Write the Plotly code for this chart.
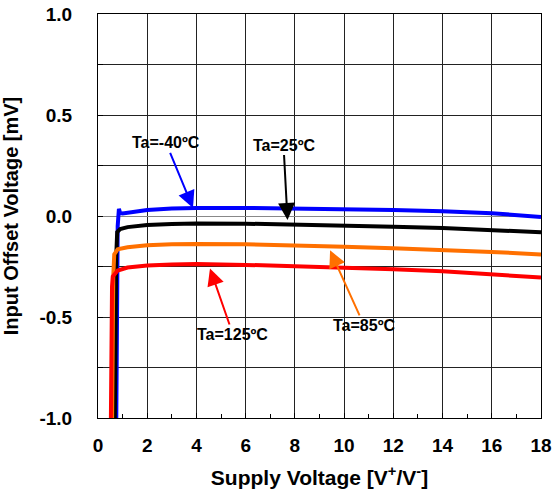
import plotly.graph_objects as go

# Supply voltage [V] and input offset voltage [mV] per ambient temperature
x_m40 = [0.74, 0.76, 0.80, 0.85, 0.90, 1.0, 1.5, 2, 3, 4, 6, 8, 10, 12, 14, 16, 18]
y_m40 = [-1.05, -0.5, -0.05, 0.035, 0.015, 0.012, 0.022, 0.03, 0.037, 0.04, 0.04, 0.038, 0.035, 0.03, 0.024, 0.014, -0.005]

x_25 = [0.68, 0.70, 0.74, 0.78, 0.9, 1.2, 2, 3, 4, 6, 8, 10, 12, 14, 16, 18]
y_25 = [-1.05, -0.6, -0.2, -0.08, -0.065, -0.055, -0.045, -0.04, -0.037, -0.038, -0.042, -0.047, -0.053, -0.06, -0.068, -0.08]

x_85 = [0.57, 0.59, 0.62, 0.66, 0.8, 1.2, 2, 3, 4, 6, 8, 10, 12, 14, 16, 18]
y_85 = [-1.05, -0.6, -0.3, -0.19, -0.165, -0.155, -0.145, -0.14, -0.138, -0.14, -0.145, -0.152, -0.16, -0.168, -0.178, -0.19]

x_125 = [0.52, 0.54, 0.57, 0.60, 0.8, 1.2, 2, 3, 4, 6, 8, 10, 12, 14, 16, 18]
y_125 = [-1.05, -0.6, -0.35, -0.3, -0.27, -0.255, -0.245, -0.24, -0.238, -0.242, -0.248, -0.255, -0.263, -0.273, -0.287, -0.305]

y_label_vals = [-1.0, -0.5, 0.0, 0.5, 1.0]
y_label_text = ["-1.0", "-0.5", "0.0", "0.5", "1.0"]
x_tick_vals = [0, 2, 4, 6, 8, 10, 12, 14, 16, 18]

series = [
    (x_m40, y_m40, "#0000FF", "Ta=-40ºC"),
    (x_25, y_25, "#000000", "Ta=25ºC"),
    (x_85, y_85, "#FF7000", "Ta=85ºC"),
    (x_125, y_125, "#FF0000", "Ta=125ºC"),
]

fig = go.Figure()
for xs, ys, color, name in series:
    fig.add_trace(go.Scatter(x=xs, y=ys, mode="lines", name=name,
                             line=dict(color=color, width=4), showlegend=False))

font_main = "Liberation Sans, Arial, sans-serif"

# Callout labels: (text, tip x, tip y, text offset px, color)
callouts = [
    ("Ta=-40ºC", 3.86, 0.04, -27, -65, "#0000FF"),
    ("Ta=25ºC", 7.7, -0.02, -4, -75, "#000000"),
    ("Ta=125ºC", 4.55, -0.26, 23, 66, "#FF0000"),
    ("Ta=85ºC", 9.43, -0.17, 34, 75, "#FF7000"),
]
for text, tx, ty, ax, ay, color in callouts:
    fig.add_annotation(x=tx, y=ty, ax=ax, ay=ay, text="<b>%s</b>" % text,
                       showarrow=True, arrowhead=2, arrowsize=1.7, arrowwidth=2,
                       arrowcolor=color, font=dict(family=font_main, size=16, color="black"))

fig.update_layout(
    width=553, height=492,
    margin=dict(l=98, r=12, t=14, b=74),
    paper_bgcolor="white", plot_bgcolor="white",
    font=dict(family=font_main, color="black"),
)
fig.update_xaxes(
    range=[0, 18], tickvals=x_tick_vals, ticktext=["<b>%d</b>" % v for v in x_tick_vals],
    tickfont=dict(size=19, family=font_main), automargin=False, ticklabelstandoff=10,
    showgrid=True, gridcolor="#222", gridwidth=1, zeroline=False,
    showline=True, linecolor="black", linewidth=1, mirror=True,
    ticks="inside", ticklen=5, tickcolor="black",
    minor=dict(dtick=1, ticks="inside", ticklen=4, tickcolor="black", showgrid=False),
    title=dict(text="<b>Supply Voltage [V<sup>+</sup>/V<sup>-</sup>]</b>",
               font=dict(size=21, family=font_main)),
)
fig.update_yaxes(
    range=[-1.0, 1.0], tickvals=y_label_vals, ticktext=["<b>%s</b>" % t for t in y_label_text],
    tickfont=dict(size=19, family=font_main), automargin=False, ticklabelstandoff=21,
    showgrid=True, gridcolor="#222", gridwidth=1, zeroline=True,
    zerolinecolor="#888", zerolinewidth=1,
    showline=True, linecolor="black", linewidth=1, mirror=True,
    ticks="inside", ticklen=5, tickcolor="black",
    minor=dict(dtick=0.25, ticks="inside", ticklen=5, tickcolor="black",
               showgrid=True, gridcolor="#222", gridwidth=1),
    title=dict(text="<b>Input Offset Voltage [mV]</b>",
               font=dict(size=20, family=font_main)),
)

fig.write_html("out.html")
